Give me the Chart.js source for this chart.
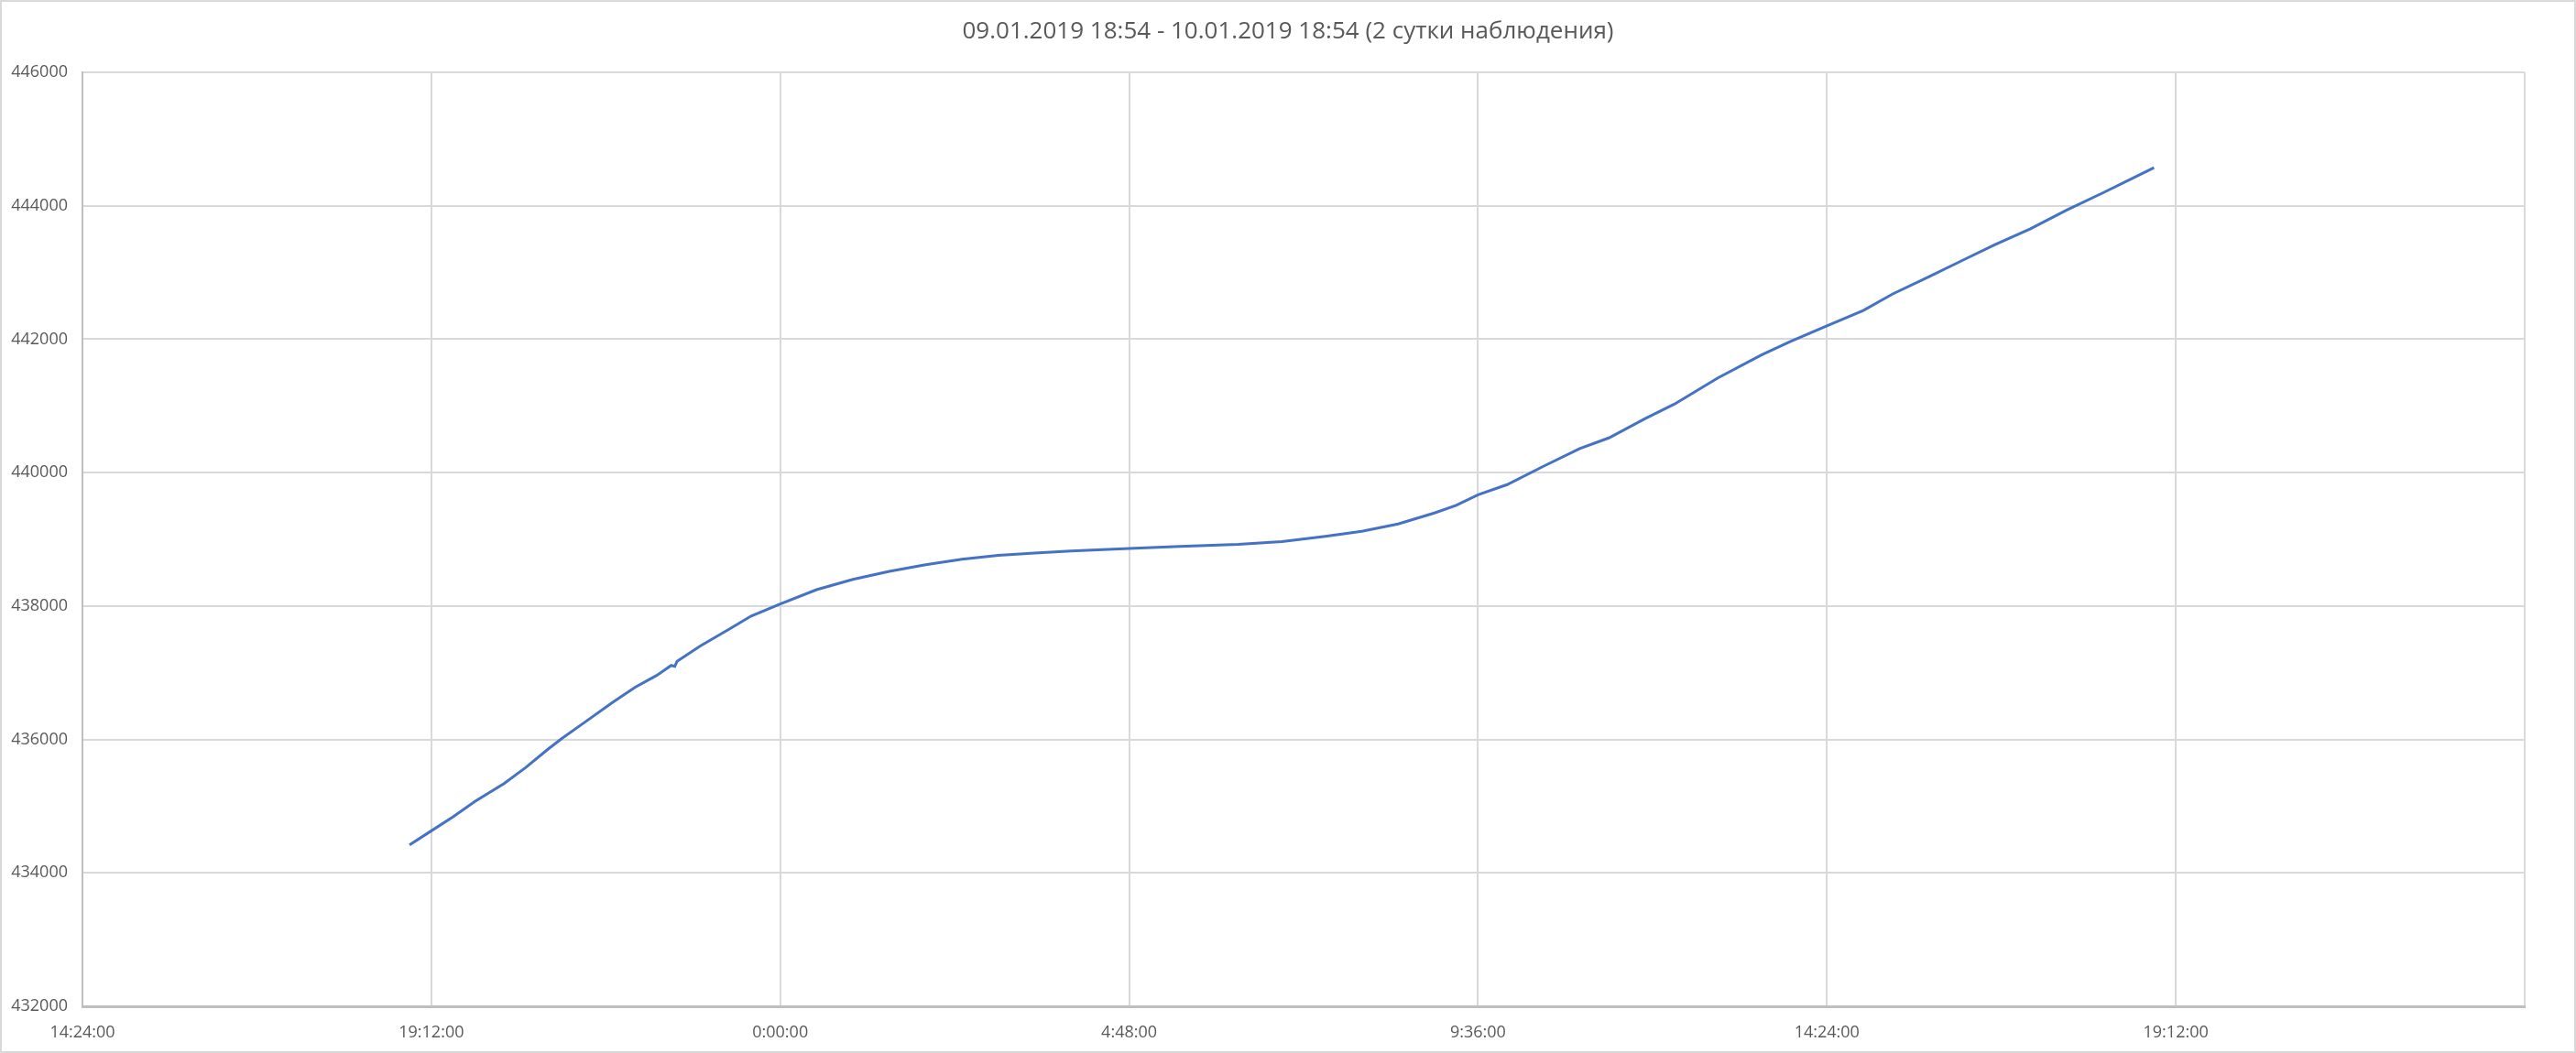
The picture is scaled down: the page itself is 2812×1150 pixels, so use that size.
<!DOCTYPE html>
<html>
<head>
<meta charset="utf-8">
<script src="https://cdn.jsdelivr.net/npm/chart.js@4/dist/chart.umd.min.js"></script>
<style>
  html, body { margin: 0; padding: 0; background: #fff; }
  #wrap { position: relative; width: 2812px; height: 1150px; }
  #frame { position: absolute; inset: 0; border: 2px solid #d9d9d9; pointer-events: none; }
</style>
</head>
<body>
<div id="wrap">
  <canvas id="chart" width="2812" height="1150"></canvas>
  <div id="frame"></div>
</div>
<script>
// hours since 09.01.2019 00:00 (values > 24 belong to 10.01)
const hours = [
  18.9, 19.2, 19.5, 19.8, 20.2, 20.5, 20.8, 21.0, 21.3, 21.7, 22.0, 22.3, 22.5,
  22.55, 22.58, 22.9, 23.3, 23.6, 24.0, 24.5, 25.0, 25.5, 26.0, 26.5, 27.0, 27.5,
  28.0, 28.8, 29.5, 30.3, 30.9, 31.5, 32.0, 32.5, 33.0, 33.3, 33.6, 34.0, 34.5,
  35.0, 35.4, 35.9, 36.3, 36.9, 37.5, 37.9, 38.4, 38.9, 39.3, 39.8, 40.3, 40.7,
  41.2, 41.7, 42.2, 42.6, 42.9
]
const values = [
  434420, 434630, 434840, 435070, 435340, 435580, 435850, 436018, 436250, 436560, 436780, 436960, 437110,
  437095, 437170, 437400, 437655, 437850, 438030, 438245, 438400, 438520, 438620, 438700, 438760, 438795,
  438825, 438864, 438892, 438925, 438965, 439045, 439120, 439230, 439395, 439510, 439668, 439820, 440095,
  440360, 440520, 440810, 441025, 441420, 441765, 441965, 442200, 442430, 442675, 442935, 443200, 443410,
  443655, 443935, 444195, 444410, 444570
]

// axis range in minutes: 09.01 14:24 .. 11.01 0:00, step 4:48
const xMin = 864
const xMax = 2880
const xStep = 288
const yMin = 432000
const yMax = 446000
const yStep = 2000

const titleText = "09.01.2019 18:54 - 10.01.2019 18:54 (2 сутки наблюдения)"

const font = "'Open Sans', 'Noto Sans', sans-serif"
const points = hours.map((h, i) => ({ x: h * 60, y: values[i] }))

function timeLabel(m) {
  if (m >= xMax) return ""
  const h = Math.floor(m / 60) % 24
  const mm = Math.round(m % 60)
  return h + ":" + String(mm).padStart(2, "0") + ":00"
}

new Chart(document.getElementById("chart"), {
  type: "line",
  data: {
    datasets: [{
      data: points,
      borderColor: "#4472c4",
      borderWidth: 3,
      pointRadius: 0,
      tension: 0,
      fill: false
    }]
  },
  options: {
    responsive: false,
    animation: false,
    layout: { padding: { left: 0, right: 0, top: 3, bottom: 0 } },
    plugins: {
      legend: { display: false },
      tooltip: { enabled: false },
      title: {
        display: true,
        text: titleText,
        color: "#595959",
        font: { family: font, size: 26, weight: "normal", lineHeight: 1.2 },
        padding: { top: 16, bottom: 28.8 }
      }
    },
    scales: {
      x: {
        type: "linear",
        min: xMin,
        max: xMax,
        afterFit: (s) => { s.height = 51 },
        ticks: {
          stepSize: xStep,
          autoSkip: false,
          maxRotation: 0,
          padding: 18,
          color: "#595959",
          font: { family: font, size: 18 },
          callback: (v) => timeLabel(v)
        },
        grid: { color: "#d9d9d9", lineWidth: 2, drawTicks: false },
        border: { color: "#bfbfbf", width: 3 }
      },
      y: {
        min: yMin,
        max: yMax,
        afterFit: (s) => { s.width = 90 },
        ticks: {
          stepSize: yStep,
          padding: 16,
          color: "#595959",
          font: { family: font, size: 18 },
          callback: (v) => String(v)
        },
        grid: { color: "#d9d9d9", lineWidth: 2, drawTicks: false },
        border: { color: "#bfbfbf", width: 2 }
      },
      // empty right-hand spacer so the title stays centred on the whole canvas
      yRight: {
        position: "right",
        min: yMin,
        max: yMax,
        afterFit: (s) => { s.width = 56 },
        ticks: { display: false },
        grid: { display: false, drawTicks: false },
        border: { display: false }
      }
    }
  }
})
</script>
</body>
</html>
